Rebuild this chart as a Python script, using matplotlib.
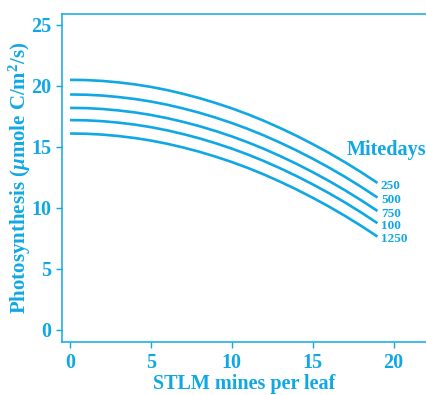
import matplotlib
matplotlib.use("Agg")
import matplotlib.pyplot as plt

# mines per leaf at which the curves were read
mines = list(range(20))

# photosynthesis for each mitedays level
p250 = [20.5, 20.48, 20.41, 20.29, 20.13, 19.92, 19.66, 19.35, 19.0, 18.6,
        18.16, 17.67, 17.13, 16.54, 15.91, 15.23, 14.51, 13.74, 12.92, 12.05]
p500 = [19.3, 19.28, 19.21, 19.09, 18.93, 18.72, 18.46, 18.15, 17.8, 17.4,
        16.96, 16.47, 15.93, 15.34, 14.71, 14.03, 13.31, 12.54, 11.72, 10.85]
p750 = [18.2, 18.18, 18.11, 17.99, 17.83, 17.62, 17.36, 17.05, 16.7, 16.3,
        15.86, 15.37, 14.83, 14.24, 13.61, 12.93, 12.21, 11.44, 10.62, 9.75]
p100 = [17.2, 17.18, 17.11, 16.99, 16.83, 16.62, 16.36, 16.05, 15.7, 15.3,
        14.86, 14.37, 13.83, 13.24, 12.61, 11.93, 11.21, 10.44, 9.62, 8.75]
p1250 = [16.1, 16.08, 16.01, 15.89, 15.73, 15.52, 15.26, 14.95, 14.6, 14.2,
         13.76, 13.27, 12.73, 12.14, 11.51, 10.83, 10.11, 9.34, 8.52, 7.65]

series = [p250, p500, p750, p100, p1250]
labels = ["250", "500", "750", "100", "1250"]

xticks = [0, 5, 10, 15, 20]
yticks = [0, 5, 10, 15, 20, 25]

blue = "#10a8e4"

plt.rcParams["font.family"] = ["Liberation Serif", "DejaVu Serif"]
plt.rcParams["font.weight"] = "bold"
plt.rcParams["mathtext.fontset"] = "custom"
plt.rcParams["mathtext.rm"] = "Liberation Serif:bold"
plt.rcParams["mathtext.it"] = "Liberation Serif:italic:bold"

fig = plt.figure(figsize=(4.26, 3.95), dpi=100)
ax = fig.add_axes([0.1455, 0.134, 0.8545, 0.8306])

for ys, lab in zip(series, labels):
    ax.plot(mines, ys, color=blue, lw=1.9, solid_capstyle="butt")
    ax.annotate(lab, xy=(mines[-1], ys[-1]), xytext=(2.5, -2),
                textcoords="offset points", color=blue, fontsize=9.5,
                fontweight="bold", va="center", ha="left")

ax.text(17.1, 14.75, "Mitedays", color=blue, fontsize=14.5,
        fontweight="bold", va="center", ha="left")

ax.set_xlim(-0.5, 22)
ax.set_ylim(-1, 25.9)
ax.set_xticks(xticks)
ax.set_yticks(yticks)

for side in ["left", "bottom", "top"]:
    ax.spines[side].set_color(blue)
    ax.spines[side].set_linewidth(1.1)
ax.spines["right"].set_visible(False)

ax.tick_params(colors=blue, labelsize=14.5, width=1.0, length=4,
               direction="out")
ax.tick_params(axis="x", pad=4)
for t in ax.get_xticklabels() + ax.get_yticklabels():
    t.set_fontweight("bold")

ax.set_xlabel("STLM mines per leaf", color=blue, fontsize=14.5,
              fontweight="bold", labelpad=0.5)
ax.set_ylabel(r"Photosynthesis ($\mu$mole C/m$^2$/s)", color=blue,
              fontsize=15, fontweight="bold", labelpad=-1)

fig.savefig("out.png", dpi=100)
